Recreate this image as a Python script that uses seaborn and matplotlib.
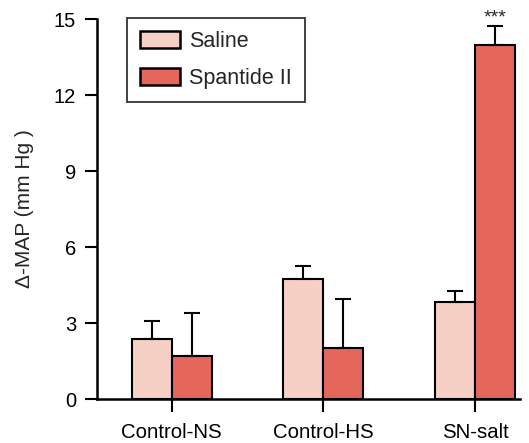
import matplotlib
matplotlib.use("Agg")
import matplotlib.pyplot as plt
import seaborn as sns
import pandas as pd

categories = ["Control-NS", "Control-HS", "SN-salt"]
groups = ["Saline", "Spantide II"]
saline_mean = [2.36, 4.74, 3.83]
saline_err = [0.73, 0.51, 0.42]
spantide_mean = [1.71, 2.03, 13.96]
spantide_err = [1.67, 1.92, 0.77]
colors = ["#F6D0C5", "#E5675B"]

sns.set_style("ticks")
plt.rcParams['font.family'] = ['Liberation Sans', 'DejaVu Sans']

df = pd.DataFrame({
    "cat": categories * 2,
    "grp": [groups[0]] * 3 + [groups[1]] * 3,
    "val": saline_mean + spantide_mean,
    "err": saline_err + spantide_err,
})

fig = plt.figure(figsize=(5.29, 4.43), dpi=100)
ax = fig.add_axes([0.1834, 0.0993, 0.7996, 0.8578])
sns.barplot(data=df, x="cat", y="val", hue="grp", order=categories,
            hue_order=groups, palette=colors, width=0.527, gap=0,
            errorbar=None, edgecolor="black", linewidth=1.5, ax=ax,
            saturation=1)

errs = {groups[0]: saline_err, groups[1]: spantide_err}
for cont, g in zip(ax.containers, groups):
    for patch, e in zip(cont.patches, errs[g]):
        xc = patch.get_x() + patch.get_width() / 2
        h = patch.get_height()
        ax.errorbar(xc, h, yerr=[[0], [e]], fmt="none", ecolor="black",
                    elinewidth=1.5, capsize=5.5, capthick=1.5, zorder=1)

# significance marker
sn_bar = ax.containers[1].patches[2]
ax.text(sn_bar.get_x() + sn_bar.get_width() / 2, 15.05, "***",
        ha="center", va="center", fontsize=14, clip_on=False)

ax.set_xlim(-0.492, 2.296)
ax.set_ylim(0, 15)
ax.set_yticks([0, 3, 6, 9, 12, 15])
ax.set_xlabel("")
ax.set_ylabel("Δ-MAP (mm Hg )", fontsize=15, labelpad=14)
ax.tick_params(axis="both", direction="out", length=9, width=1.5,
               labelsize=14.5, color="black", labelcolor="black")
ax.tick_params(axis="y", pad=6)
ax.tick_params(axis="x", labelsize=14.7, pad=8)
sns.despine(ax=ax)
for s in ["left", "bottom"]:
    ax.spines[s].set_linewidth(1.8)
    ax.spines[s].set_color("black")

leg = ax.legend(loc="upper left", bbox_to_anchor=(0.071, 1.003),
                borderaxespad=0, fontsize=15.5, handlelength=1.85,
                handleheight=0.86, handletextpad=0.45, labelspacing=0.75,
                borderpad=0.6, fancybox=False, frameon=True)
leg.get_frame().set_edgecolor("black")
leg.get_frame().set_linewidth(1.3)
for h in leg.legend_handles:
    h.set_edgecolor("black")
    h.set_linewidth(1.8)

fig.savefig("out.png", dpi=100)
